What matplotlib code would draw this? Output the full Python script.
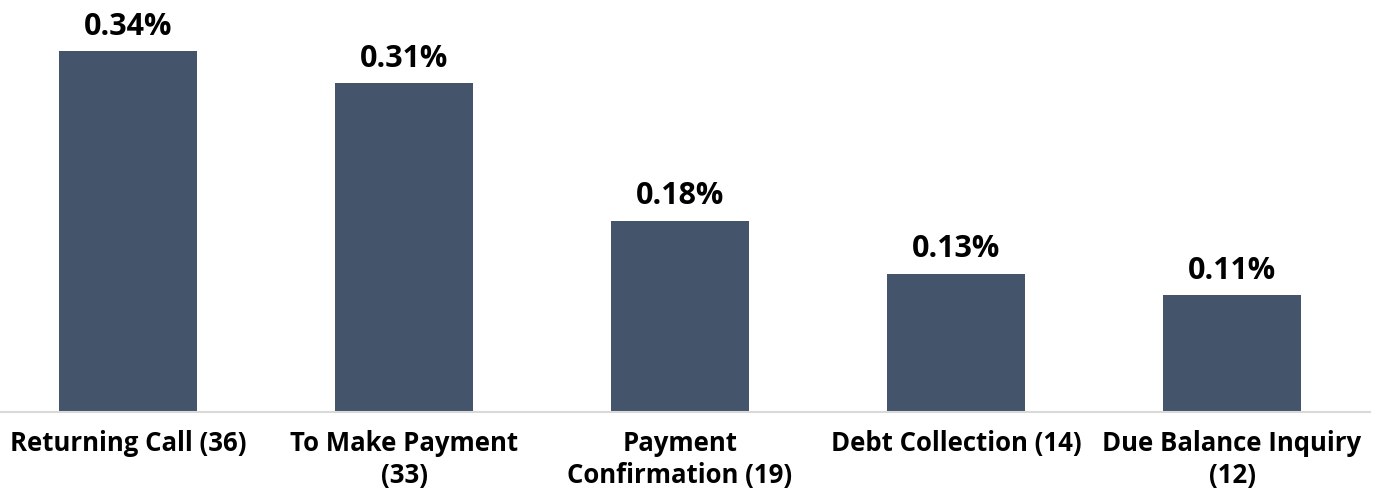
import matplotlib
matplotlib.use('Agg')
import matplotlib.pyplot as plt

categories = ['Returning Call (36)', 'To Make Payment\n(33)', 'Payment\nConfirmation (19)',
              'Debt Collection (14)', 'Due Balance Inquiry\n(12)']
values = [0.34, 0.31, 0.18, 0.13, 0.11]
labels = ['0.34%', '0.31%', '0.18%', '0.13%', '0.11%']

bar_color = '#44546A'

fig = plt.figure(figsize=(13.82, 5), dpi=100)
ax = fig.add_axes([-10 / 1382, 88 / 500, 1380 / 1382, 412 / 500])

x = range(len(categories))
bars = ax.bar(x, values, width=0.5, color=bar_color, zorder=2)

for b, lab in zip(bars, labels):
    ax.annotate(lab, (b.get_x() + b.get_width() / 2, b.get_height()),
                xytext=(0, 7), textcoords='offset points',
                ha='center', va='bottom', fontsize=22, fontweight='bold',
                family='Open Sans', color='black')

ax.set_xlim(-0.5, 4.5)
ax.set_ylim(0, 408 / 1050)
ax.set_xticks(list(x))
ax.set_xticklabels(categories, fontsize=18.5, fontweight='bold', family='Open Sans',
                   linespacing=1.25)
ax.tick_params(axis='x', length=0, pad=13)
ax.set_yticks([])

for s in ['top', 'right', 'left']:
    ax.spines[s].set_visible(False)
ax.spines['bottom'].set_color('#D9D9D9')
ax.spines['bottom'].set_linewidth(1.5)

fig.savefig('out.png', dpi=100)
